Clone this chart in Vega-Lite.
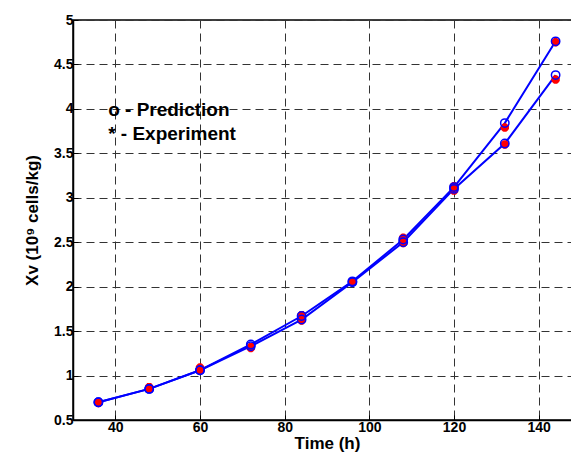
{
  "$schema": "https://vega.github.io/schema/vega-lite/v6.json",
  "autosize": "none",
  "padding": {"left": 73, "top": 20, "right": 0, "bottom": 39},
  "width": 508,
  "height": 400,
  "background": "white",
  "config": {
    "font": "Liberation Sans",
    "view": {"stroke": "black", "strokeWidth": 1.5},
    "axis": {
      "domainColor": "black",
      "domainWidth": 1.5,
      "tickColor": "black",
      "tickSize": -5,
      "labelFont": "Liberation Sans",
      "labelFontWeight": "bold",
      "labelFontSize": 14,
      "labelColor": "black",
      "titleFont": "Liberation Sans",
      "titleFontWeight": "bold",
      "titleFontSize": 17,
      "titleColor": "black",
      "grid": true,
      "gridColor": "#333333",
      "gridDash": [8, 5],
      "gridWidth": 1
    }
  },
  "datasets": {
    "pts": [
      {"t": 36, "run": "A", "pred": 0.70, "exp": 0.70},
      {"t": 48, "run": "A", "pred": 0.85, "exp": 0.87},
      {"t": 60, "run": "A", "pred": 1.06, "exp": 1.09},
      {"t": 72, "run": "A", "pred": 1.35, "exp": 1.32},
      {"t": 84, "run": "A", "pred": 1.67, "exp": 1.68},
      {"t": 96, "run": "A", "pred": 2.06, "exp": 2.06},
      {"t": 108, "run": "A", "pred": 2.53, "exp": 2.55},
      {"t": 120, "run": "A", "pred": 3.12, "exp": 3.13},
      {"t": 132, "run": "A", "pred": 3.84, "exp": 3.79},
      {"t": 144, "run": "A", "pred": 4.76, "exp": 4.75},
      {"t": 36, "run": "B", "pred": 0.70, "exp": 0.69},
      {"t": 48, "run": "B", "pred": 0.85, "exp": 0.85},
      {"t": 60, "run": "B", "pred": 1.06, "exp": 1.06},
      {"t": 72, "run": "B", "pred": 1.33, "exp": 1.31},
      {"t": 84, "run": "B", "pred": 1.63, "exp": 1.62},
      {"t": 96, "run": "B", "pred": 2.05, "exp": 2.05},
      {"t": 108, "run": "B", "pred": 2.50, "exp": 2.49},
      {"t": 120, "run": "B", "pred": 3.10, "exp": 3.08},
      {"t": 132, "run": "B", "pred": 3.61, "exp": 3.60},
      {"t": 144, "run": "B", "pred": 4.38, "exp": 4.33}
    ],
    "notes": [
      {"t": 38.3, "v": 3.99, "label": "o - Prediction"},
      {"t": 38.3, "v": 3.72, "label": "* - Experiment"}
    ]
  },
  "layer": [
    {
      "data": {"name": "pts"},
      "mark": {"type": "line", "color": "#0000ff", "strokeWidth": 2},
      "encoding": {
        "x": {"field": "t", "type": "quantitative", "scale": {"domain": [30, 150], "nice": false},
              "axis": {"values": [40, 60, 80, 100, 120, 140], "title": "Time (h)", "titlePadding": 1, "labelPadding": 5}},
        "y": {"field": "pred", "type": "quantitative", "scale": {"domain": [0.5, 5], "nice": false, "zero": false},
              "axis": {"values": [0.5, 1, 1.5, 2, 2.5, 3, 3.5, 4, 4.5, 5], "format": "~g", "title": "Xv (10⁹ cells/kg)", "titlePadding": 12, "labelPadding": 5}},
        "detail": {"field": "run"}
      }
    },
    {
      "data": {"name": "pts"},
      "mark": {"type": "point", "shape": "M-1,0L1,0M0,-1L0,1M-0.7,-0.7L0.7,0.7M-0.7,0.7L0.7,-0.7", "color": "#ff0000", "strokeWidth": 3, "size": 70, "filled": false, "opacity": 1},
      "encoding": {
        "x": {"field": "t", "type": "quantitative"},
        "y": {"field": "exp", "type": "quantitative"}
      }
    },
    {
      "data": {"name": "pts"},
      "mark": {"type": "point", "shape": "circle", "color": "#0000ff", "strokeWidth": 1.5, "size": 70, "filled": false, "opacity": 1},
      "encoding": {
        "x": {"field": "t", "type": "quantitative"},
        "y": {"field": "pred", "type": "quantitative"}
      }
    },
    {
      "data": {"name": "notes"},
      "mark": {"type": "text", "align": "left", "baseline": "middle", "font": "Liberation Sans", "fontWeight": "bold", "fontSize": 19, "color": "black"},
      "encoding": {
        "x": {"field": "t", "type": "quantitative"},
        "y": {"field": "v", "type": "quantitative"},
        "text": {"field": "label"}
      }
    }
  ]
}
